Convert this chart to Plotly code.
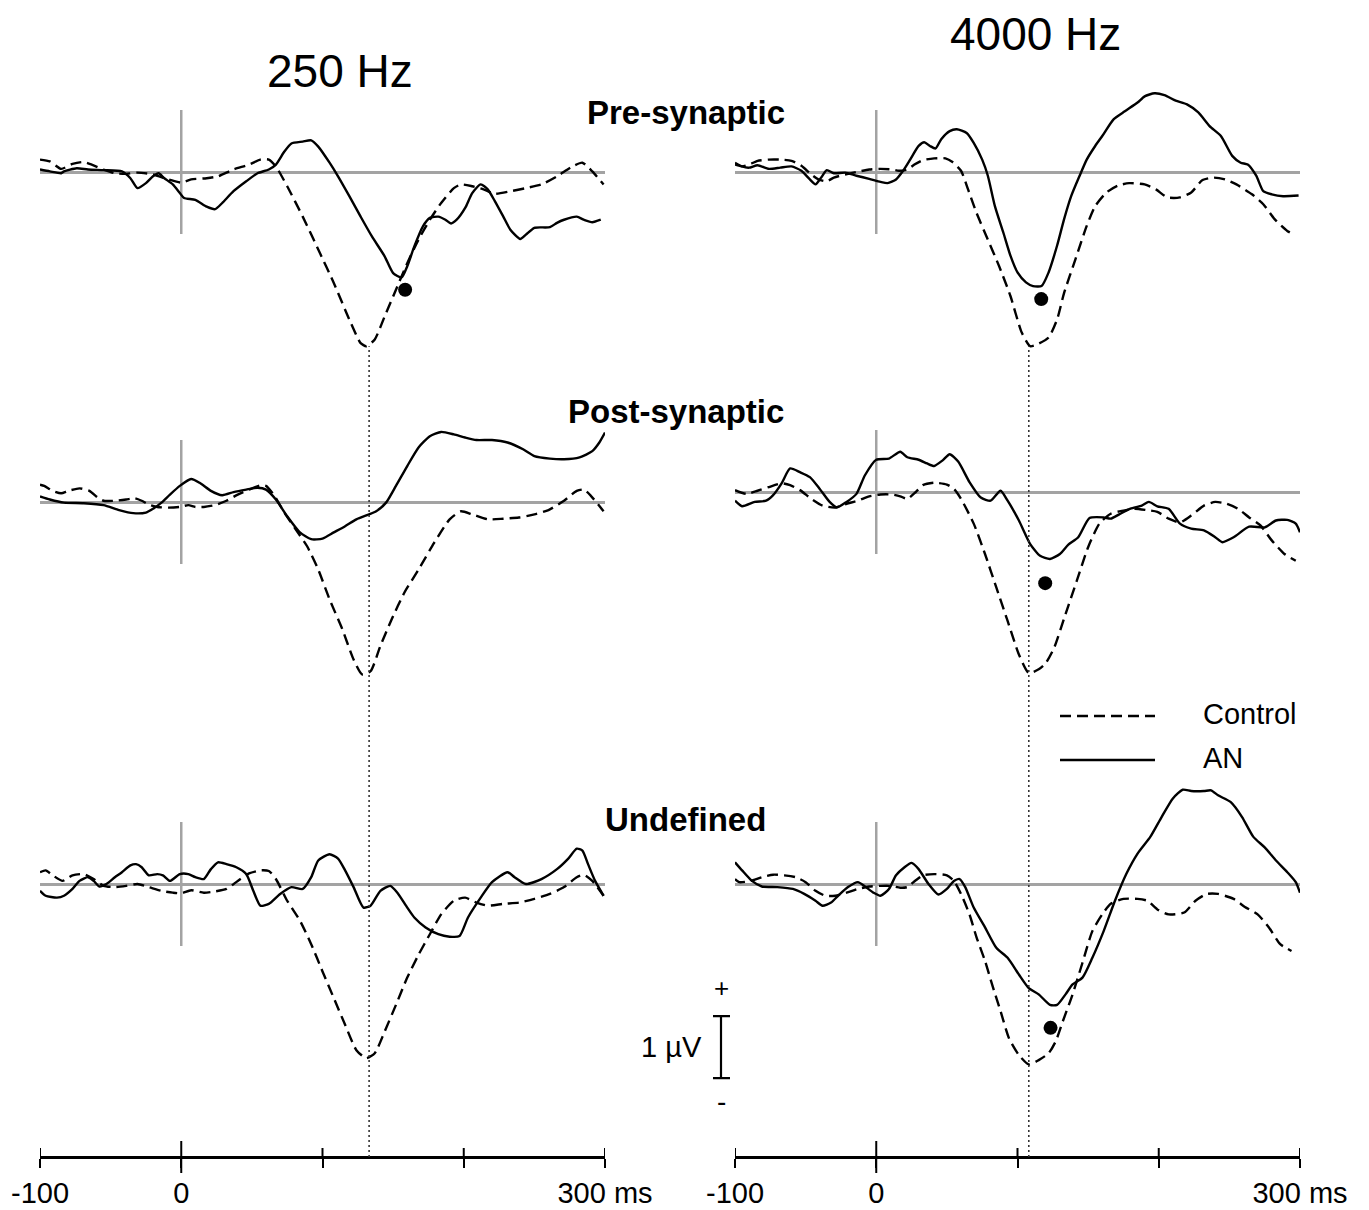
import plotly.graph_objects as go

# ---------------- data (time in ms, amplitude in µV) ----------------
# Row 1: Pre-synaptic
pre_250_ctrl_t = [-100,-93,-85,-77,-69,-55,-47,-39,-31,-20,-9,0,7,18,26,37,48,56,62,67,75,86,97,108,119,127,131,137,144,152,160,168,176,184,193,198,206,214,222,233,244,255,266,277,284,291,299]
pre_250_ctrl_v = [0.20,0.17,0.05,0.13,0.16,0.04,-0.02,-0.03,-0.01,-0.04,-0.12,-0.17,-0.12,-0.10,-0.07,0.04,0.12,0.20,0.20,0.09,-0.23,-0.72,-1.25,-1.79,-2.38,-2.76,-2.81,-2.70,-2.33,-1.90,-1.47,-1.09,-0.77,-0.50,-0.26,-0.20,-0.23,-0.28,-0.35,-0.31,-0.26,-0.20,-0.07,0.09,0.15,0.01,-0.20]
pre_250_an_t = [-100,-93,-85,-83,-74,-66,-55,-42,-36,-31,-25,-20,-16,-12,-6,-1,2,10,18,24,29,37,46,54,62,67,73,78,86,92,97,105,111,119,127,135,144,150,156,160,165,171,176,182,187,191,195,201,206,212,217,222,228,233,240,244,250,261,266,271,280,285,291,297]
pre_250_an_v = [0.04,0.01,-0.02,0.01,0.06,0.04,0.03,0.01,-0.10,-0.26,-0.18,-0.07,-0.02,-0.10,-0.20,-0.34,-0.42,-0.45,-0.56,-0.60,-0.50,-0.31,-0.15,-0.02,0.04,0.12,0.33,0.46,0.49,0.51,0.41,0.15,-0.07,-0.39,-0.72,-1.04,-1.36,-1.63,-1.70,-1.52,-1.20,-0.88,-0.74,-0.72,-0.77,-0.83,-0.77,-0.58,-0.34,-0.20,-0.28,-0.47,-0.72,-0.93,-1.08,-1.01,-0.90,-0.89,-0.82,-0.77,-0.72,-0.77,-0.81,-0.77]
pre_4000_ctrl_t = [-100,-95,-90,-84,-76,-68,-60,-53,-46,-41,-35,-30,-22,-14,-5,3,11,16,22,27,33,41,49,54,60,65,71,79,87,95,103,109,114,122,128,133,141,149,155,163,171,179,190,198,206,215,223,231,239,247,255,266,274,282,291,296]
pre_4000_ctrl_v = [0.12,0.09,0.12,0.18,0.20,0.20,0.18,0.10,-0.04,-0.12,-0.15,-0.09,-0.04,0,0.04,0.05,0.04,0.02,0.04,0.12,0.19,0.22,0.22,0.16,0.02,-0.28,-0.66,-1.09,-1.52,-2.0,-2.59,-2.81,-2.78,-2.67,-2.38,-1.95,-1.41,-0.87,-0.55,-0.33,-0.22,-0.18,-0.20,-0.28,-0.41,-0.41,-0.33,-0.13,-0.09,-0.12,-0.20,-0.36,-0.52,-0.76,-0.95,-1.01]
pre_4000_an_t = [-100,-95,-90,-84,-76,-68,-60,-53,-47,-43,-39,-35,-30,-22,-14,-5,3,8,14,19,24,30,34,38,42,46,52,57,64,69,75,79,84,90,95,100,106,111,117,122,128,133,138,144,149,155,160,168,176,185,190,197,204,212,220,228,236,244,252,258,263,269,274,280,288,299]
pre_4000_an_v = [0.15,0.09,0.07,0.11,0.05,0.07,0.09,0.02,-0.12,-0.20,-0.09,0.03,-0.02,-0.01,-0.06,-0.11,-0.16,-0.18,-0.12,0.02,0.20,0.42,0.48,0.42,0.38,0.53,0.66,0.69,0.63,0.47,0.20,-0.06,-0.55,-0.98,-1.35,-1.62,-1.78,-1.84,-1.84,-1.62,-1.19,-0.76,-0.39,-0.06,0.20,0.42,0.58,0.85,0.98,1.12,1.22,1.27,1.24,1.15,1.09,0.96,0.74,0.58,0.26,0.15,0.12,-0.06,-0.31,-0.36,-0.39,-0.38]

# Row 2: Post-synaptic
post_250_ctrl_t = [-100,-97,-91,-85,-80,-72,-65,-59,-55,-47,-39,-33,-28,-23,-17,-9,-1,5,10,16,24,32,40,48,56,60,66,73,81,89,97,105,114,122,128,134,141,149,158,168,179,190,198,206,217,228,239,250,260,271,280,285,290,299]
post_250_ctrl_v = [0.28,0.26,0.18,0.14,0.18,0.22,0.18,0.07,0.02,0.02,0.04,0.06,0.02,-0.04,-0.08,-0.09,-0.08,-0.05,-0.08,-0.08,-0.05,0.02,0.12,0.20,0.27,0.26,0.10,-0.17,-0.44,-0.71,-1.09,-1.57,-2.05,-2.54,-2.78,-2.73,-2.32,-1.89,-1.46,-1.09,-0.66,-0.28,-0.15,-0.20,-0.28,-0.27,-0.25,-0.20,-0.13,0.02,0.18,0.20,0.10,-0.15]
post_250_an_t = [-100,-93,-83,-69,-55,-44,-34,-25,-20,-14,-8,-1,7,13,21,29,37,46,54,60,67,75,84,92,100,108,116,124,133,138,145,152,160,168,176,184,193,201,209,220,231,242,250,261,271,282,291,296,300]
post_250_an_v = [0.09,0.04,-0.01,-0.02,-0.05,-0.13,-0.18,-0.17,-0.11,-0.01,0.12,0.26,0.37,0.31,0.18,0.11,0.16,0.20,0.23,0.20,0.04,-0.23,-0.49,-0.60,-0.59,-0.49,-0.39,-0.28,-0.20,-0.15,-0.01,0.26,0.58,0.88,1.06,1.13,1.09,1.04,1.0,1.0,0.96,0.85,0.74,0.70,0.69,0.72,0.82,0.96,1.12]
post_4000_ctrl_t = [-100,-92,-84,-76,-67,-61,-54,-46,-38,-29,-21,-13,-5,3,11,17,22,28,33,41,50,55,60,69,77,85,93,101,108,115,120,126,134,142,150,158,166,175,183,191,199,207,215,223,232,240,248,256,264,272,280,289,297]
post_4000_ctrl_v = [0.03,-0.03,0.02,0.08,0.14,0.11,0.03,-0.11,-0.22,-0.25,-0.19,-0.14,-0.07,-0.04,-0.04,-0.07,-0.11,0,0.11,0.15,0.12,0.05,-0.11,-0.51,-1.0,-1.54,-2.08,-2.62,-2.92,-2.86,-2.76,-2.51,-1.97,-1.43,-0.89,-0.51,-0.35,-0.30,-0.27,-0.29,-0.32,-0.43,-0.49,-0.38,-0.22,-0.16,-0.19,-0.27,-0.41,-0.54,-0.78,-1.0,-1.11]
post_4000_an_t = [-100,-95,-86,-78,-73,-67,-61,-54,-47,-40,-33,-28,-21,-14,-8,0,9,17,22,30,36,41,47,52,58,66,74,81,88,93,101,109,116,123,130,136,143,151,161,166,172,180,188,193,199,207,215,223,232,240,245,253,264,275,283,291,297,300]
post_4000_an_v = [-0.14,-0.23,-0.16,-0.14,-0.05,0.14,0.38,0.32,0.24,0.05,-0.16,-0.25,-0.16,-0.03,0.27,0.52,0.54,0.65,0.56,0.52,0.46,0.42,0.51,0.61,0.49,0.16,-0.09,-0.14,0.02,-0.14,-0.46,-0.84,-1.03,-1.08,-1.0,-0.85,-0.73,-0.42,-0.41,-0.43,-0.36,-0.27,-0.22,-0.16,-0.23,-0.27,-0.51,-0.59,-0.62,-0.73,-0.81,-0.73,-0.56,-0.57,-0.46,-0.45,-0.51,-0.65]

# Row 3: Undefined
und_250_ctrl_t = [-100,-96,-91,-84,-77,-69,-62,-55,-47,-39,-31,-23,-14,-6,0,7,16,24,32,40,48,56,62,67,75,84,92,100,108,116,124,131,137,144,152,160,168,176,184,193,201,209,217,228,239,250,261,271,280,285,291,299]
und_250_ctrl_v = [0.19,0.22,0.14,0.05,0.14,0.16,0.08,-0.03,-0.05,-0.03,0,-0.05,-0.11,-0.14,-0.15,-0.10,-0.14,-0.12,-0.08,0.05,0.17,0.22,0.21,0.08,-0.27,-0.59,-0.97,-1.41,-1.84,-2.27,-2.68,-2.81,-2.73,-2.38,-1.95,-1.51,-1.14,-0.81,-0.49,-0.27,-0.22,-0.30,-0.35,-0.32,-0.30,-0.24,-0.16,-0.05,0.11,0.15,0.05,-0.19]
und_250_an_t = [-100,-96,-88,-83,-77,-72,-66,-62,-58,-53,-47,-42,-36,-32,-28,-23,-17,-13,-8,-1,5,10,16,21,26,32,39,46,51,56,62,70,78,86,92,97,105,111,116,122,129,134,141,148,153,160,165,173,182,190,197,203,212,220,231,236,244,255,266,274,280,284,288,293,299]
und_250_an_v = [-0.11,-0.19,-0.22,-0.19,-0.08,0.05,0.11,0.05,-0.04,0,0.11,0.19,0.30,0.32,0.27,0.14,0.16,0.14,0.05,0.16,0.16,0.11,0.08,0.24,0.35,0.32,0.27,0.16,-0.11,-0.35,-0.32,-0.16,-0.05,-0.08,0.11,0.38,0.48,0.41,0.22,-0.05,-0.38,-0.35,-0.11,-0.03,-0.14,-0.38,-0.54,-0.70,-0.81,-0.85,-0.84,-0.54,-0.22,0.03,0.19,0.11,0,0.08,0.24,0.41,0.57,0.54,0.32,0.05,-0.19]
und_4000_ctrl_t = [-100,-97,-89,-81,-73,-65,-57,-50,-43,-36,-29,-21,-13,-5,3,10,17,22,28,33,41,50,55,60,66,71,77,82,88,94,101,108,115,122,127,132,139,146,153,160,166,175,185,192,199,207,218,226,234,242,253,261,270,278,286,294]
und_4000_ctrl_v = [0.08,0.03,0.05,0.11,0.15,0.14,0.11,0.03,-0.11,-0.19,-0.19,-0.14,-0.08,-0.04,-0.03,-0.03,-0.06,-0.05,0.06,0.14,0.16,0.14,0.05,-0.16,-0.49,-0.86,-1.24,-1.62,-2.05,-2.49,-2.76,-2.91,-2.84,-2.73,-2.54,-2.22,-1.78,-1.27,-0.76,-0.49,-0.32,-0.24,-0.24,-0.27,-0.41,-0.49,-0.46,-0.27,-0.16,-0.16,-0.24,-0.37,-0.49,-0.70,-0.97,-1.08]
und_4000_an_t = [-100,-95,-88,-81,-70,-59,-51,-43,-38,-32,-27,-20,-13,-8,-2,3,9,14,20,25,30,37,44,50,55,59,63,69,77,85,93,101,108,115,123,128,134,139,146,153,161,169,177,185,194,202,210,217,223,232,237,242,251,259,267,275,283,291,297,300]
und_4000_an_v = [0.35,0.22,0.05,-0.04,-0.05,-0.08,-0.16,-0.27,-0.35,-0.30,-0.19,-0.05,0.03,-0.04,-0.14,-0.19,-0.08,0.14,0.27,0.34,0.24,0,-0.17,-0.08,0.05,0.08,-0.05,-0.38,-0.70,-1.03,-1.19,-1.46,-1.68,-1.78,-1.95,-1.95,-1.78,-1.62,-1.51,-1.19,-0.76,-0.27,0.16,0.49,0.76,1.08,1.38,1.52,1.50,1.50,1.51,1.43,1.32,1.08,0.76,0.59,0.38,0.19,0.03,-0.14]

# AN peak markers (ms, µV)
dot_pre_250 = (158.5, -1.90)
dot_pre_4000 = (116.8, -2.05)
dot_post_4000 = (119.6, -1.47)
dot_und_4000 = (123.4, -2.32)

# Control peak latency (dotted reference lines), ms
peak_latency = [133, 108]

col_titles = ["250 Hz", "4000 Hz"]
row_titles = ["Pre-synaptic", "Post-synaptic", "Undefined"]
tick_vals = [-100, 0, 100, 200, 300]
tick_text = ["-100", "0", "", "", "300 ms"]
legend_labels = ["Control", "AN"]
scale_bar_uv = 1.0

# ---------------- layout geometry (reference-pixel based) ----------------
PAGE_W, PAGE_H = 1369, 1210
BODY = 8                      # default page margin around the plot div
FW, FH = PAGE_W - BODY, PAGE_H - BODY
FONT = "Liberation Sans, Arial, Helvetica, sans-serif"
PX_PER_UV = 62.0
COL_PX = [(40, 605), (735, 1300)]
ROW_BASE_PX = [[172, 172], [502, 492], [884, 884]]
Y_LO, Y_HI = -3.7, 1.8
T_RANGE = [-100, 300]
AXIS_PX = 1157
LW = 2.4
DASH = "11px,6px"


def py(px):
    return 1 - (px - BODY) / FH


def px_x(px):
    return (px - BODY) / FW


panels = [
    (0, 0, pre_250_ctrl_t, pre_250_ctrl_v, pre_250_an_t, pre_250_an_v, dot_pre_250),
    (0, 1, pre_4000_ctrl_t, pre_4000_ctrl_v, pre_4000_an_t, pre_4000_an_v, dot_pre_4000),
    (1, 0, post_250_ctrl_t, post_250_ctrl_v, post_250_an_t, post_250_an_v, None),
    (1, 1, post_4000_ctrl_t, post_4000_ctrl_v, post_4000_an_t, post_4000_an_v, dot_post_4000),
    (2, 0, und_250_ctrl_t, und_250_ctrl_v, und_250_an_t, und_250_an_v, None),
    (2, 1, und_4000_ctrl_t, und_4000_ctrl_v, und_4000_an_t, und_4000_an_v, dot_und_4000),
]

fig = go.Figure()
layout = {}
shapes = []
annotations = []

for idx, (r, c, ct, cv, at, av, dot) in enumerate(panels):
    k = idx + 1
    xname = "x" if c == 0 else "x2"
    yname = "y" if k == 1 else f"y{k}"
    ykey = "yaxis" if k == 1 else f"yaxis{k}"
    base = ROW_BASE_PX[r][c]
    dom = [py(base - Y_LO * PX_PER_UV), py(base - Y_HI * PX_PER_UV)]
    layout[ykey] = dict(domain=dom, range=[Y_LO, Y_HI], anchor=xname, automargin=False,
                        showticklabels=False, ticks="", showgrid=False, showline=False,
                        zeroline=True, zerolinecolor="#a3a3a3", zerolinewidth=2.5,
                        fixedrange=True)
    fig.add_trace(go.Scatter(x=ct, y=cv, xaxis=xname, yaxis=yname, mode="lines",
                             line=dict(color="black", width=LW, dash=DASH,
                                       shape="spline", smoothing=0.6),
                             showlegend=False, hoverinfo="skip"))
    fig.add_trace(go.Scatter(x=at, y=av, xaxis=xname, yaxis=yname, mode="lines",
                             line=dict(color="black", width=LW,
                                       shape="spline", smoothing=0.6),
                             showlegend=False, hoverinfo="skip"))
    if dot is not None:
        fig.add_trace(go.Scatter(x=[dot[0]], y=[dot[1]], xaxis=xname, yaxis=yname,
                                 mode="markers", marker=dict(color="black", size=14),
                                 showlegend=False, hoverinfo="skip"))
    # stimulus-onset line (t = 0), ±1 µV
    shapes.append(dict(type="line", xref=xname, yref=yname, x0=0, x1=0, y0=-1, y1=1,
                       line=dict(color="#a3a3a3", width=2.5), layer="below"))

# time axes (bottom)
for c in range(2):
    key = "xaxis" if c == 0 else "xaxis2"
    xref = "x" if c == 0 else "x2"
    x0, x1 = COL_PX[c]
    layout[key] = dict(domain=[px_x(x0), px_x(x1)], range=T_RANGE, anchor="free",
                       position=py(AXIS_PX), showline=True, linecolor="black", linewidth=2.5,
                       ticks="outside", ticklen=9, tickwidth=2, tickcolor="black",
                       tickmode="array", tickvals=tick_vals, ticktext=tick_text,
                       tickfont=dict(size=29, color="black", family=FONT),
                       ticklabelstandoff=0, automargin=False,
                       showgrid=False, zeroline=False, fixedrange=True)
    # upward half of each tick (shapes on the same time scale)
    for tv in tick_vals:
        up = 16 if tv == 0 else 9
        shapes.append(dict(type="line", xref=xref, yref="paper",
                           x0=tv, x1=tv, y0=py(AXIS_PX), y1=py(AXIS_PX - up),
                           line=dict(color="black", width=2)))
    shapes.append(dict(type="line", xref=xref, yref="paper",
                       x0=0, x1=0, y0=py(AXIS_PX), y1=py(AXIS_PX + 16),
                       line=dict(color="black", width=2)))
    # dotted control-peak latency line from row-1 control trough to time axis
    row1_ctrl_min = min(panels[c][3])
    top_px = ROW_BASE_PX[0][c] - row1_ctrl_min * PX_PER_UV
    shapes.append(dict(type="line", xref=xref, yref="paper",
                       x0=peak_latency[c], x1=peak_latency[c],
                       y0=py(AXIS_PX), y1=py(top_px),
                       line=dict(color="#333333", width=1.6, dash="2px,3px")))


def text_ann(txt, xpx, ypx, size, bold=False, xanchor="center"):
    return dict(text=f"<b>{txt}</b>" if bold else txt, x=px_x(xpx), y=py(ypx),
                xref="paper", yref="paper", xanchor=xanchor, yanchor="middle",
                showarrow=False, font=dict(size=size, family=FONT, color="black"))


# headers
annotations.append(text_ann(col_titles[0], 340, 71, 46))
annotations.append(text_ann(col_titles[1], 1035, 34, 46))
for txt, (cx, cy) in zip(row_titles, [(686, 112), (676, 412), (685, 819)]):
    annotations.append(text_ann(txt, cx, cy, 33, bold=True))

# legend (custom, long line samples)
for label, ypx, dash in [(legend_labels[0], 716, DASH), (legend_labels[1], 760, "solid")]:
    shapes.append(dict(type="line", xref="paper", yref="paper", x0=px_x(1060), x1=px_x(1155),
                       y0=py(ypx), y1=py(ypx), line=dict(color="black", width=LW, dash=dash)))
    annotations.append(text_ann(label, 1201, ypx - 2, 29, xanchor="left"))

# scale bar (1 µV) in row-3 right panel's amplitude units
sb_y = "y6"
sb_bottom = -3.13
sb_top = sb_bottom + scale_bar_uv
sb_x = px_x(721)
shapes.append(dict(type="line", xref="paper", yref=sb_y, x0=sb_x, x1=sb_x, y0=sb_bottom, y1=sb_top,
                   line=dict(color="black", width=2.2)))
for yv in (sb_bottom, sb_top):
    shapes.append(dict(type="line", xref="paper", yref=sb_y, x0=px_x(713), x1=px_x(730),
                       y0=yv, y1=yv, line=dict(color="black", width=2.2)))
annotations.append(dict(text="+", x=sb_x, y=sb_top + 0.45, xref="paper", yref=sb_y,
                        xanchor="center", yanchor="middle", showarrow=False,
                        font=dict(size=26, family=FONT, color="black")))
annotations.append(dict(text="-", x=sb_x, y=sb_bottom - 0.37, xref="paper", yref=sb_y,
                        xanchor="center", yanchor="middle", showarrow=False,
                        font=dict(size=28, family=FONT, color="black")))
annotations.append(dict(text="1 µV", x=px_x(704), y=(sb_bottom + sb_top) / 2, xref="paper",
                        yref=sb_y, xanchor="right", yanchor="middle", showarrow=False,
                        font=dict(size=29, family=FONT, color="black")))

fig.update_layout(**layout)
fig.update_layout(width=FW, height=FH, autosize=False,
                  margin=dict(l=0, r=0, t=0, b=0, pad=0, autoexpand=False),
                  paper_bgcolor="white", plot_bgcolor="white",
                  font=dict(family=FONT, color="black"),
                  shapes=shapes, annotations=annotations, showlegend=False,
                  hovermode=False)

fig.write_html("out.html", config={"displayModeBar": False})
